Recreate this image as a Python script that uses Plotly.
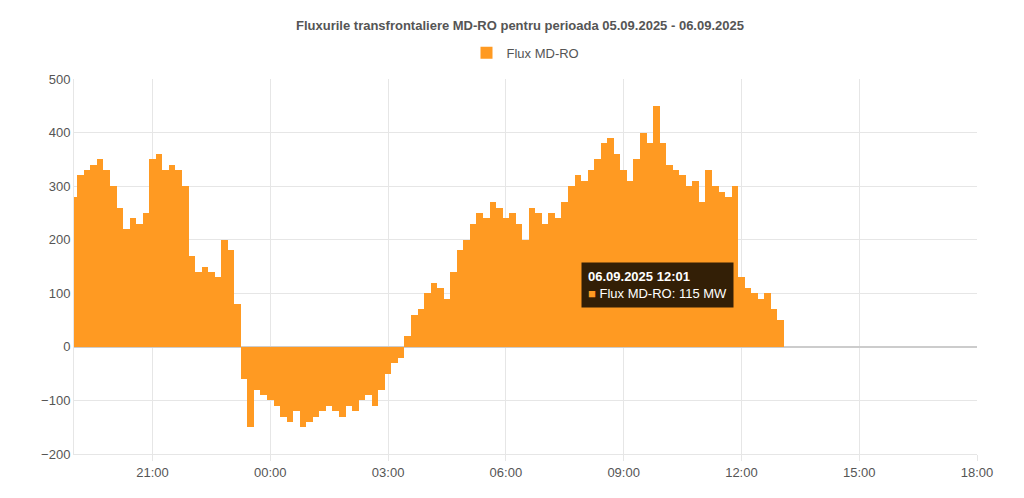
import plotly.graph_objects as go
import pandas as pd

start = "2025-09-05 19:00"
flux = [280, 320, 330, 340, 350, 330,
        300, 260, 220, 240, 230, 250,
        350, 360, 330, 340, 330, 300,
        170, 140, 150, 140, 130, 200,
        180, 80, -60, -150, -80, -90,
        -100, -110, -130, -140, -120, -150,
        -140, -130, -120, -110, -120, -130,
        -110, -120, -100, -90, -110, -80,
        -50, -30, -20, 20, 60, 70,
        100, 120, 110, 90, 140, 180,
        200, 230, 250, 240, 270, 260,
        240, 250, 230, 200, 260, 250,
        230, 250, 240, 270, 300, 320,
        310, 330, 350, 380, 390, 360,
        330, 310, 350, 400, 380, 450,
        380, 340, 330, 320, 300, 310,
        270, 330, 300, 290, 280, 300,
        130, 110, 100, 90, 100, 70, 50]
times = pd.date_range(start, periods=len(flux), freq="10min")
tick_vals = pd.date_range("2025-09-05 21:00", "2025-09-06 18:00", freq="3h")
tick_text = [t.strftime("%H:%M") for t in tick_vals]

fig = go.Figure(go.Bar(x=times, y=flux, name="Flux MD-RO", marker_color="#FF9A22",
                       marker_line_width=0, showlegend=True))
fig.update_layout(
    width=1024, height=498, paper_bgcolor="white", plot_bgcolor="white",
    bargap=0, margin=dict(l=66, r=55, t=71, b=52),
    title=dict(text="<b>Fluxurile transfrontaliere MD-RO pentru perioada 05.09.2025 - 06.09.2025</b>",
               x=0.5, y=0.965, yanchor="middle", font=dict(family="Liberation Sans", size=13, color="#555")),
    legend=dict(orientation="h", x=0.5, xanchor="center", y=1.03, yanchor="bottom",
                font=dict(family="Liberation Sans", size=13, color="#555")),
    font=dict(family="Liberation Sans", size=13, color="#555"),
)
fig.update_xaxes(range=["2025-09-05 19:00", "2025-09-06 18:00"], tickvals=tick_vals, ticktext=tick_text,
                 showgrid=True, gridcolor="#e6e6e6", ticks="outside", tickcolor="#e6e6e6", ticklen=6,
                 showline=True, linecolor="#e6e6e6")
fig.update_yaxes(range=[-200, 500], dtick=100, showgrid=True, gridcolor="#e6e6e6",
                 zeroline=True, zerolinecolor="#ccc", showline=True, linecolor="#e6e6e6")
fig.add_annotation(x="2025-09-06 12:01", y=115, xanchor="right",
                   text="<b>06.09.2025 12:01</b><br><span style='color:#FF9A22'>■</span> Flux MD-RO: 115 MW",
                   showarrow=False, xshift=-8, align="left", bgcolor="rgba(0,0,0,0.8)",
                   font=dict(color="white", size=13), borderpad=6)
fig.write_html("out.html")
